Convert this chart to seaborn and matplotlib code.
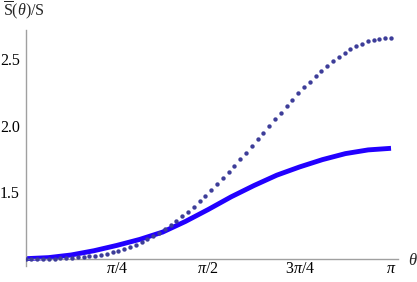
import numpy as np
import pandas as pd
import matplotlib
matplotlib.use("Agg")
import matplotlib.pyplot as plt
import seaborn as sns
from matplotlib.ticker import MultipleLocator

# solid curve, sampled at theta = k*pi/16
theta_line = np.arange(17) * np.pi / 16
s_line = [1.000, 1.008, 1.028, 1.060, 1.100, 1.145, 1.200, 1.280, 1.370,
          1.465, 1.550, 1.628, 1.690, 1.745, 1.790, 1.818, 1.830]

# dotted series, one point every pi/63
theta_pts = np.arange(64) * np.pi / 63
s_pts = [1.000, 1.000, 1.000, 1.000, 1.001, 1.001, 1.002, 1.004, 1.006, 1.009,
         1.012, 1.017, 1.023, 1.030, 1.039, 1.049, 1.061, 1.074, 1.089, 1.106,
         1.125, 1.147, 1.170, 1.195, 1.223, 1.252, 1.284, 1.318, 1.354, 1.391,
         1.432, 1.471, 1.516, 1.562, 1.604, 1.650, 1.697, 1.747, 1.797, 1.847,
         1.898, 1.947, 1.998, 2.048, 2.098, 2.148, 2.196, 2.243, 2.289, 2.331,
         2.374, 2.414, 2.451, 2.486, 2.517, 2.547, 2.574, 2.599, 2.617, 2.635,
         2.644, 2.652, 2.657, 2.659]

x_ticks = [np.pi / 4, np.pi / 2, 3 * np.pi / 4, np.pi]
x_labels = [r"$\pi/4$", r"$\pi/2$", r"$3\pi/4$", r"$\pi$"]
y_ticks = [1.5, 2.0, 2.5]
y_labels = ["1.5", "2.0", "2.5"]

line_df = pd.DataFrame({"theta": theta_line, "S": s_line})
pts_df = pd.DataFrame({"theta": theta_pts, "S": s_pts})

sns.set_style("white")
plt.rcParams["font.family"] = ["Liberation Serif", "DejaVu Serif"]
plt.rcParams["mathtext.fontset"] = "custom"
plt.rcParams["mathtext.rm"] = "Liberation Serif"
plt.rcParams["mathtext.it"] = "Liberation Serif:italic"

fig = plt.figure(figsize=(4.17, 2.82), dpi=100)
ax = fig.add_axes([0.0612, 0.0567, 0.8933, 0.8369])

sns.lineplot(data=line_df, x="theta", y="S", ax=ax, color="#2200ff",
             linewidth=3.5, solid_capstyle="butt", zorder=2)
sns.scatterplot(data=pts_df, x="theta", y="S", ax=ax, color="#3d3d99",
                s=10, linewidth=0, zorder=3)

ax.set_xlim(0, 3.2018)
ax.set_ylim(0.945, 2.7195)

gray = "#a0a0a0"
for side in ["top", "right"]:
    ax.spines[side].set_visible(False)
ax.spines["left"].set_position(("data", 0))
ax.spines["bottom"].set_position(("data", 1))
for side in ["left", "bottom"]:
    ax.spines[side].set_color(gray)
    ax.spines[side].set_linewidth(1.0)

ax.set_xticks(x_ticks)
ax.set_xticklabels(x_labels)
ax.set_yticks(y_ticks)
ax.set_yticklabels(y_labels)
ax.yaxis.set_minor_locator(MultipleLocator(0.1))

ax.tick_params(axis="both", which="both", direction="in", color=gray,
               labelcolor="black", labelsize=11.5, width=0.8)
ax.tick_params(axis="x", which="major", length=4, pad=1.5)
ax.tick_params(axis="y", which="major", length=4, pad=4)
ax.tick_params(axis="y", which="minor", length=2.5)

ax.set_xlabel(r"$\theta$", fontsize=12, va="center", ha="center")
ax.xaxis.set_label_coords(1.040, 0.0233)
ax.set_ylabel(r"$\overline{\mathrm{S}}(\theta)/\mathrm{S}$", fontsize=11.5,
              rotation=0, va="center", ha="center")
ax.yaxis.set_label_coords(-0.004, 1.0805)

fig.savefig("out.png", dpi=100)
